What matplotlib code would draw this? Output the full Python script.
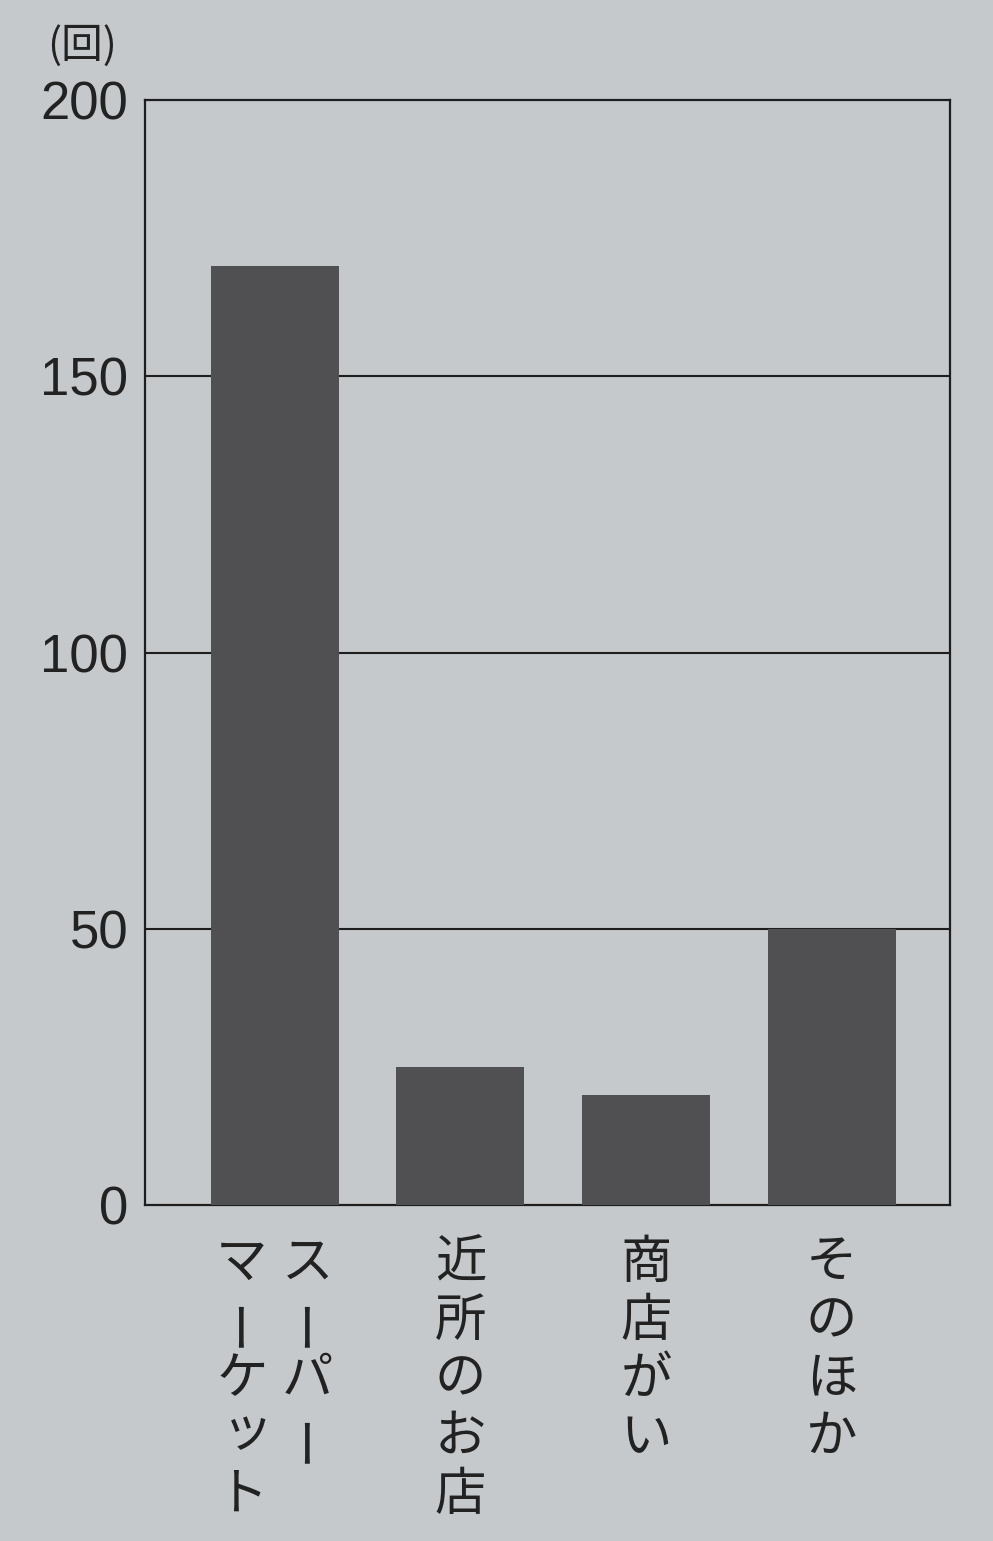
import numpy as np
import matplotlib.pyplot as plt

plt.rcParams['font.family'] = ['Noto Sans CJK JP', 'DejaVu Sans']

# データ
categories = ["スーパーマーケット", "近所のお店", "商店がい", "そのほか"]
# 縦書きの列（右の列から）
label_columns = [["スーパー", "マーケット"], ["近所のお店"], ["商店がい"], ["そのほか"]]
counts = [170, 25, 20, 50]
yticks = [0, 50, 100, 150, 200]

bg = "#c6c9cb"
bar_color = "#505053"

fig = plt.figure(figsize=(9.93, 15.41), dpi=100, facecolor=bg)
ax = fig.add_axes([0.146, 0.218, 0.811, 0.717])
ax.set_facecolor(bg)

x = np.arange(len(categories))
ax.bar(x, counts, width=0.69, color=bar_color, zorder=3)

ax.set_xlim(-0.7, 3.64)
ax.set_ylim(0, 200)
ax.set_yticks(yticks)
ax.set_yticklabels([str(v) for v in yticks], fontsize=38, color="#222222",
                   family=["Liberation Sans", "DejaVu Sans"])
ax.set_xticks([])
ax.tick_params(axis="y", length=0, pad=12)
for v in yticks[1:-1]:
    ax.axhline(v, color="#1e1e1e", lw=1.5, zorder=2)
for s in ax.spines.values():
    s.set_linewidth(1.6)
    s.set_color("#1e1e1e")

# 単位
fig.text(0.083, 0.97, "(回)", fontsize=30, ha="center", va="center", color="#222222")

# 縦書きラベル
pitch = 58
col_gap = 66
for i, cols in enumerate(label_columns):
    n = len(cols)
    for c, col in enumerate(cols):
        dx = (n - 1) / 2 * col_gap - c * col_gap
        for k, ch in enumerate(col):
            rot = 90 if ch == "ー" else 0
            ox, oy = dx, -58 - k * pitch
            if ch == "ッ":
                ox += 6
                oy += 6
            ax.annotate(ch, xy=(x[i], 0), xycoords=("data", "axes fraction"),
                        xytext=(ox, oy), textcoords="offset pixels",
                        ha="center", va="center", rotation=rot,
                        fontsize=37, color="#222222", annotation_clip=False)

fig.savefig("out.png", dpi=100, facecolor=bg)
